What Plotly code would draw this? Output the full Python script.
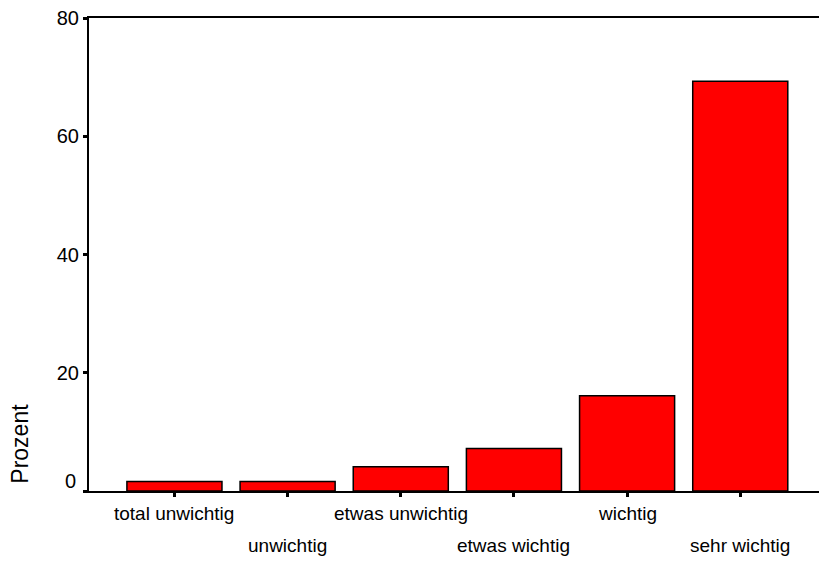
import plotly.graph_objects as go

categories = ["total unwichtig", "unwichtig", "etwas unwichtig", "etwas wichtig", "wichtig", "sehr wichtig"]
percent = [1.6, 1.6, 4.1, 7.2, 16.1, 69.3]
y_ticks = [0, 20, 40, 60, 80]
y_title = "Prozent"

FONT = "Liberation Sans, Arial, sans-serif"

fig = go.Figure()
fig.add_trace(go.Bar(
    x=list(range(len(categories))),
    y=percent,
    width=0.84,
    marker=dict(color="#FF0000", line=dict(color="black", width=1.5)),
    hoverinfo="skip",
))

annotations = []
for i, c in enumerate(categories):
    annotations.append(dict(
        x=i, xref="x", y=0, yref="paper",
        text=c, showarrow=False,
        xanchor="center", yanchor="middle",
        yshift=-22 if i % 2 == 0 else -54,
        font=dict(family=FONT, size=19, color="black"),
    ))
annotations.append(dict(
    x=0, xref="paper", y=0, yref="y", text=str(y_ticks[0]), showarrow=False,
    xanchor="right", yanchor="middle", xshift=-11, yshift=10,
    font=dict(family=FONT, size=20, color="black"),
))
annotations.append(dict(
    x=0, xref="paper", y=0.1, yref="paper", text=y_title, showarrow=False,
    textangle=-90, xanchor="center", yanchor="middle", xshift=-69,
    font=dict(family=FONT, size=23, color="black"),
))

fig.update_layout(
    width=827, height=563,
    margin=dict(l=81, r=11, t=10, b=80),
    paper_bgcolor="white", plot_bgcolor="white",
    showlegend=False,
    annotations=annotations,
    xaxis=dict(
        range=[-0.755, 5.74],
        tickvals=list(range(len(categories))),
        ticktext=[""] * len(categories),
        ticks="outside", ticklen=4, tickwidth=3, tickcolor="black",
        showline=True, linecolor="black", linewidth=2, mirror=True,
        showgrid=False, zeroline=False, fixedrange=True, automargin=False,
    ),
    yaxis=dict(
        range=[0, 80],
        tickvals=y_ticks,
        ticktext=[""] + [str(v) for v in y_ticks[1:]],
        ticks="outside", ticklen=4, tickwidth=3, tickcolor="black",
        tickfont=dict(family=FONT, size=20, color="black"),
        ticklabeloverflow="allow",
        showline=True, linecolor="black", linewidth=2, mirror=True,
        showgrid=False, zeroline=False, fixedrange=True, automargin=False,
    ),
)

fig.write_html("out.html")
